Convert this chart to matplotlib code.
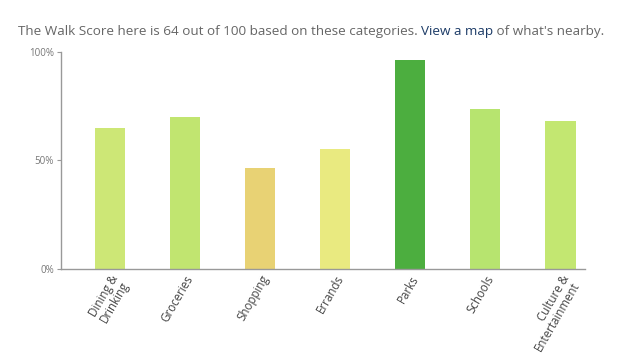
import matplotlib
matplotlib.use("Agg")
import matplotlib.pyplot as plt
import matplotlib.ticker as ticker

categories = ["Dining &\nDrinking", "Groceries", "Shopping", "Errands",
              "Parks", "Schools", "Culture &\nEntertainment"]
scores = [0.65, 0.70, 0.465, 0.553, 0.963, 0.737, 0.682]
colors = ["#cde776", "#c1e570", "#e8d274", "#e9ea80", "#4cae3f", "#b7e46f", "#c3e771"]

title_parts = [
    ("The Walk Score here is 64 out of 100 based on these categories. ", "#666666"),
    ("View a map", "#1b3a66"),
    (" of what's nearby.", "#666666"),
]

plt.rcParams["font.family"] = ["Open Sans", "DejaVu Sans"]

fig = plt.figure(figsize=(6.28, 3.6), dpi=100)
ax = fig.add_axes([0.097, 0.253, 0.835, 0.603])

x = list(range(len(categories)))
ax.bar(x, scores, width=0.4, color=colors)
ax.set_xlim(-0.65, 6.33)
ax.set_ylim(0, 1)
ax.set_yticks([0, 0.5, 1.0])
ax.yaxis.set_major_formatter(ticker.FuncFormatter(lambda v, _: f"{v*100:.0f}%"))
ax.set_xticks(x)
ax.set_xticklabels(categories, rotation=60, ha="right", va="top",
                   rotation_mode="anchor", fontsize=8.3, color="#444444",
                   linespacing=0.95)
ax.tick_params(axis="x", length=0, pad=3)
ax.tick_params(axis="y", length=3, width=0.8, color="#999999",
               labelsize=7, labelcolor="#777777", pad=2)
for s in ["top", "right"]:
    ax.spines[s].set_visible(False)
for s in ["left", "bottom"]:
    ax.spines[s].set_color("#999999")
    ax.spines[s].set_linewidth(1.0)

# multi-coloured header line
fig.canvas.draw()
r = fig.canvas.get_renderer()
xpos = 18
for txt, col in title_parts:
    t = fig.text(xpos / 628, 1 - 31 / 360, txt, color=col, fontsize=9.7,
                 ha="left", va="center")
    bb = t.get_window_extent(renderer=r)
    xpos = bb.x1

fig.savefig("out.png", dpi=100)
